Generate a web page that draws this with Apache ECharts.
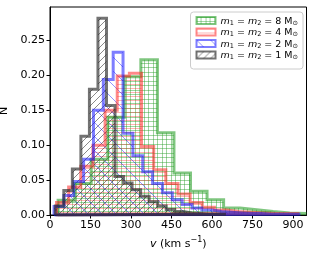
<!DOCTYPE html>
<html><head><meta charset="utf-8">
<script src="https://cdn.jsdelivr.net/npm/echarts@6/dist/echarts.min.js"></script>
<style>html,body{margin:0;padding:0;background:#fff}#c{width:315px;height:253px}</style>
</head><body><div id="c"></div>
<script>
// bin edges (km/s) and normalised counts
const greenEdges = [30, 91.3, 152.6, 213.9, 275.2, 336.5, 397.8, 459.1, 520.4, 581.7, 643, 704.3, 765.6, 826.9, 888.2, 949.5];
const greenN = [0.021, 0.045, 0.080, 0.140, 0.198, 0.2225, 0.118, 0.060, 0.034, 0.022, 0.010, 0.0076, 0.005, 0.003, 0.002];

const redEdges = [24, 69, 114, 159, 204, 249, 294, 339, 384, 429, 474, 519, 564, 609, 654, 699, 744, 789, 834, 879, 924];
const redN = [0.018, 0.040, 0.070, 0.100, 0.150, 0.199, 0.203, 0.098, 0.065, 0.045, 0.030, 0.018, 0.011, 0.007, 0.005, 0.004, 0.003, 0.002, 0.002, 0.002];

const blueEdges = [15, 51.5, 88, 124.5, 161, 197.5, 234, 270.5, 307, 343.5, 380, 416.5, 453, 489.5, 526, 562.5, 599, 635.5, 672, 708.5, 745, 781.5, 818, 854.5, 891, 927.5];
const blueN = [0.012, 0.028, 0.048, 0.080, 0.150, 0.194, 0.233, 0.117, 0.085, 0.062, 0.045, 0.032, 0.022, 0.015, 0.010, 0.007, 0.005, 0.004, 0.003, 0.002, 0.002, 0.001, 0.001, 0.001, 0.001];

const grayEdges = [19.6, 51.2, 82.8, 114.4, 146, 177.6, 209.2, 240.8, 272.4, 304, 335.6, 367.2, 398.8, 430.4, 462, 493.6, 525.2, 556.8, 588.4, 620, 651.6];
const grayN = [0.013, 0.035, 0.066, 0.113, 0.180, 0.282, 0.157, 0.055, 0.046, 0.036, 0.027, 0.019, 0.013, 0.008, 0.005, 0.003, 0.002, 0.001, 0.001, 0.001];

const massLabels = ['8', '4', '2', '1'];
const xTicks = [0, 150, 300, 450, 600, 750, 900];
const yTicks = ['0.00', '0.05', '0.10', '0.15', '0.20', '0.25'];

const colors = ['rgba(44,160,44,0.6)', 'rgba(255,40,40,0.55)', 'rgba(20,20,255,0.55)', 'rgba(40,40,40,0.65)'];
const hatchColors = ['rgba(44,160,44,0.45)', 'rgba(255,40,40,0.35)', 'rgba(20,20,255,0.45)', 'rgba(40,40,40,0.55)'];
const hatchTypes = ['grid', 'hline', 'back', 'fwd'];

function makeHatch(type, color) {
  const c = document.createElement('canvas');
  let w, h;
  if (type === 'grid') { w = 9; h = 9; }
  else if (type === 'hline') { w = 4; h = 4; }
  else if (type === 'back') { w = 14; h = 14; }
  else { w = 7; h = 7; }
  c.width = w; c.height = h;
  const ctx = c.getContext('2d');
  ctx.strokeStyle = color; ctx.lineWidth = 1;
  ctx.beginPath();
  if (type === 'grid') {
    [0.5, 4.5].forEach(p => { ctx.moveTo(p, 0); ctx.lineTo(p, h); ctx.moveTo(0, p); ctx.lineTo(w, p); });
  } else if (type === 'hline') {
    ctx.moveTo(0, 0.5); ctx.lineTo(w, 0.5);
  } else if (type === 'back') {
    [-w, 0, w].forEach(k => { ctx.moveTo(k, 0); ctx.lineTo(k + w, h); });
  } else {
    [-w, 0, w].forEach(k => { ctx.moveTo(k, h); ctx.lineTo(k + w, 0); });
  }
  ctx.stroke();
  return { image: c, repeat: 'repeat' };
}

function stepData(edges, vals) {
  const d = [[edges[0], 0]];
  for (let i = 0; i < vals.length; i++) d.push([edges[i], vals[i]]);
  d.push([edges[vals.length], vals[vals.length - 1]]);
  d.push([edges[vals.length], 0]);
  d.push([edges[0], 0]);
  return d;
}

const allEdges = [greenEdges, redEdges, blueEdges, grayEdges];
const allN = [greenN, redN, blueN, grayN];
const names = massLabels.map(m => 'm1 = m2 = ' + m + ' Msun');
const patterns = hatchTypes.map((t, i) => makeHatch(t, hatchColors[i]));

const series = names.map((n, i) => ({
  name: n,
  type: 'line',
  step: 'end',
  data: stepData(allEdges[i], allN[i]),
  showSymbol: false,
  symbol: 'none',
  lineStyle: { color: colors[i], width: 3, join: 'miter' },
  itemStyle: { color: colors[i] },
  areaStyle: { color: patterns[i], opacity: 1, origin: 0 },
  emphasis: { disabled: true }
}));

const chart = echarts.init(document.getElementById('c'), null, { renderer: 'canvas' });
const font = 'DejaVu Sans';
chart.setOption({
  animation: false,
  textStyle: { fontFamily: font },
  grid: { left: 50, right: 8.5, top: 7, bottom: 38, containLabel: false, outerBoundsMode: 'none',
    show: true, borderColor: '#000', borderWidth: 1, backgroundColor: 'transparent' },
  xAxis: {
    type: 'value', min: 0, max: 950, interval: 150,
    axisLine: { show: true, lineStyle: { color: '#000', width: 1 } },
    axisTick: { show: true, length: 3.5, lineStyle: { color: '#000' } },
    axisLabel: { color: '#000', fontSize: 11, margin: 5, showMaxLabel: false, fontFamily: font,
      formatter: v => xTicks.indexOf(v) >= 0 ? String(v) : '' },
    splitLine: { show: false },
    name: '{i|v}{n| (km s}{sup|−1}{n|)}',
    nameLocation: 'middle', nameGap: 18,
    nameTextStyle: { rich: {
      i: { fontSize: 11, fontStyle: 'italic', fontFamily: font, color: '#000', lineHeight: 14, verticalAlign: 'bottom' },
      n: { fontSize: 11, fontFamily: font, color: '#000', lineHeight: 14, verticalAlign: 'bottom' },
      sup: { fontSize: 8, fontFamily: font, color: '#000', lineHeight: 8, verticalAlign: 'top' }
    } }
  },
  yAxis: {
    type: 'value', min: 0, max: 0.298, interval: 0.05,
    axisLine: { show: true, lineStyle: { color: '#000', width: 1 } },
    axisTick: { show: true, length: 3.5, lineStyle: { color: '#000' } },
    axisLabel: { color: '#000', fontSize: 11, margin: 5, showMaxLabel: false, fontFamily: font,
      formatter: v => { const s = v.toFixed(2); return yTicks.indexOf(s) >= 0 ? s : ''; } },
    splitLine: { show: false },
    name: 'N', nameLocation: 'middle', nameGap: 35,
    nameTextStyle: { color: '#000', fontSize: 11, fontFamily: font }
  },
  legend: {
    top: 12, right: 12, orient: 'vertical',
    itemWidth: 19, itemHeight: 7, itemGap: 1,
    padding: [4, 5, 8, 5],
    backgroundColor: 'rgba(255,255,255,0.8)', borderColor: '#cccccc', borderWidth: 1, borderRadius: 3,
    icon: 'rect',
    selectedMode: false,
    data: names.map((n, i) => ({ name: n, icon: 'rect', itemStyle: { color: patterns[i], borderColor: colors[i], borderWidth: 2 } })),
    formatter: n => {
      const m = n.split(' = ')[2].split(' ')[0];
      return '{i|m}{s|1}{n| = }{i|m}{s|2}{n| = ' + m + ' M}{s|⊙}';
    },
    textStyle: { rich: {
      i: { fontSize: 9.5, fontStyle: 'italic', fontFamily: font, color: '#000', lineHeight: 12, verticalAlign: 'bottom' },
      n: { fontSize: 9.5, fontFamily: font, color: '#000', lineHeight: 12, verticalAlign: 'bottom' },
      s: { fontSize: 6.5, fontFamily: font, color: '#000', lineHeight: 6, verticalAlign: 'bottom' }
    } }
  },
  series: series
});
</script>
</body></html>
